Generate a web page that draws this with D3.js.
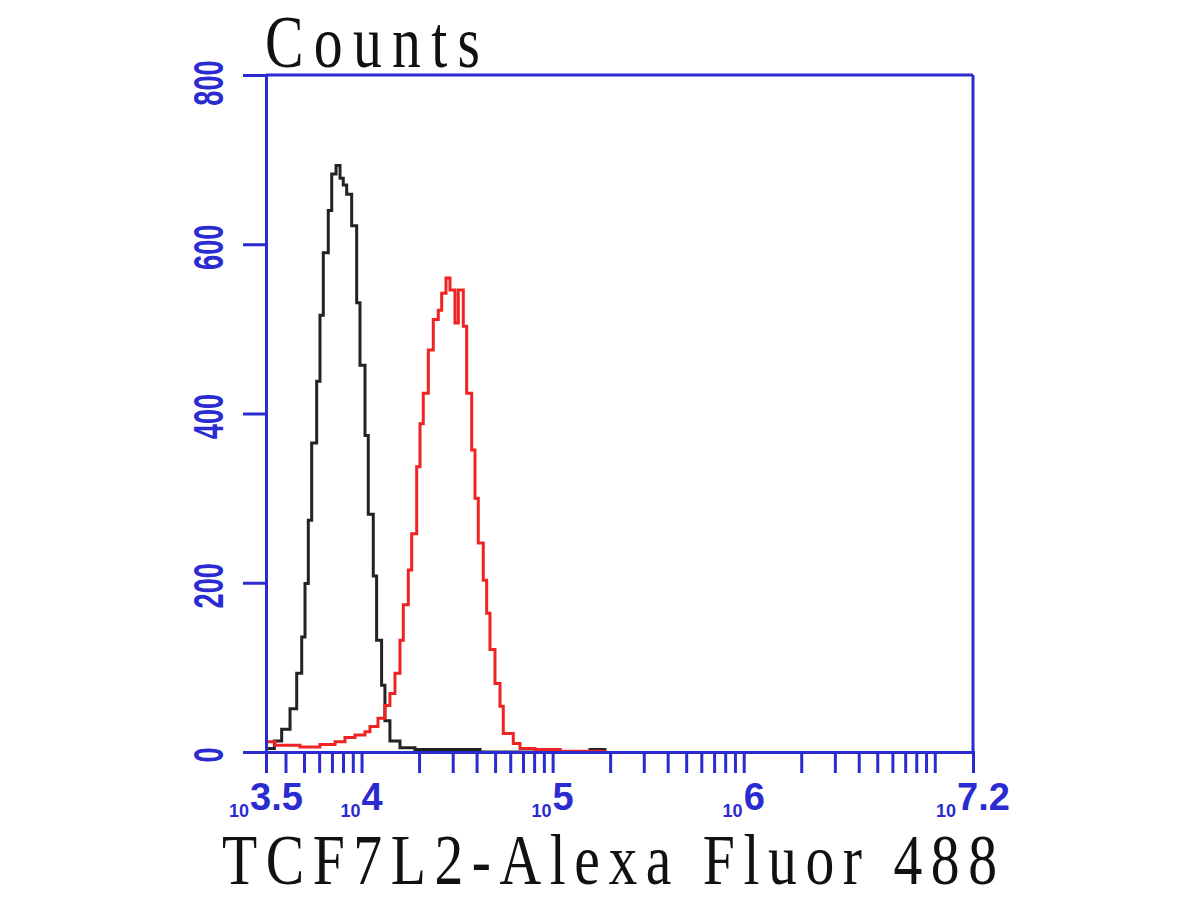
<!DOCTYPE html>
<html><head><meta charset="utf-8">
<script src="https://cdn.jsdelivr.net/npm/d3@7"></script>
<style>html,body{margin:0;padding:0;background:#fff}</style>
</head><body>
<svg id="chart" width="1200" height="900"></svg>
<script>
// Histogram data: bin start intensities and counts (step histograms)
const blackEdges  = [3162, 3500, 3820, 4224, 4578, 4863, 5060, 5265, 5483, 5824, 6060, 6308, 6698, 6982, 7355, 7716, 8024, 8359, 8878, 9431, 9815, 10425, 10845, 11520, 11990, 12735, 13255, 14080, 15890, 19040, 41690, 91200, 109300, 156900, 187900];
const blackCounts = [4, 13, 27, 51, 93, 136, 199, 274, 365, 438, 516, 590, 640, 683, 693, 678, 670, 659, 622, 531, 457, 374, 281, 208, 132, 79, 37, 13, 5, 3, 0, 3, 0, 3, 0];

const redEdges  = [3162, 3524, 4764, 6060, 7268, 8190, 9240, 10425, 11070, 12190, 13255, 14080, 14960, 15890, 16540, 17570, 18300, 19440, 20230, 21040, 22360, 23740, 25210, 26270, 27670, 29030, 30830, 32090, 34080, 35500, 37710, 39240, 40820, 43360, 45170, 47000, 49920, 53030, 55180, 62240, 67480, 80840, 109300, 187900];
const redCounts = [12, 8, 6, 9, 12, 17, 20, 24, 30, 40, 55, 69, 93, 132, 174, 215, 258, 337, 388, 424, 475, 511, 522, 542, 560, 546, 507, 546, 503, 424, 357, 300, 247, 203, 164, 121, 81, 54, 22, 10, 4, 3, 1, 0];

const yTickValues = [0, 200, 400, 600, 800];
const xLabelExponents = [3.5, 4, 5, 6, 7.2];
const xLabelTexts = ["3.5", "4", "5", "6", "7.2"];
const yTitle = "Counts";
const xTitle = "TCF7L2-Alexa Fluor 488";

const BLUE = "#2b2bd2";
const svg = d3.select("#chart");

const x = d3.scaleLog().domain([Math.pow(10, 3.5), Math.pow(10, 7.2)]).range([266, 973]);
const y = d3.scaleLinear().domain([0, 800]).range([752, 75]);

// curves
const line = d3.line().x(d => x(d[0])).y(d => y(d[1])).curve(d3.curveStepAfter);
function pts(edges, counts) { return edges.map((e, i) => [e, counts[i]]); }

svg.append("path").datum(pts(blackEdges, blackCounts)).attr("d", line)
  .attr("fill", "none").attr("stroke", "#222").attr("stroke-width", 3);
svg.append("path").datum(pts(redEdges, redCounts)).attr("d", line)
  .attr("fill", "none").attr("stroke", "#ee2424").attr("stroke-width", 3);

// axes
const xTicks = x.ticks().filter(v => v >= x.domain()[0] && v <= x.domain()[1]).concat(x.domain());
const xAxis = svg.append("g").attr("transform", `translate(0,${y(0)})`)
  .call(d3.axisBottom(x).tickValues(xTicks).tickSize(21).tickSizeOuter(21).tickFormat(""));
const yAxis = svg.append("g").attr("transform", `translate(${x.range()[0]},0)`)
  .call(d3.axisLeft(y).tickValues(yTickValues).tickSize(23).tickSizeOuter(23).tickFormat(""));
[xAxis, yAxis].forEach(g => {
  g.selectAll("path,line").attr("stroke", BLUE).attr("stroke-width", 3);
  g.select(".domain").attr("fill", "none");
});
// frame top & right
svg.append("line").attr("x1", x.range()[0]).attr("x2", x.range()[1]).attr("y1", y(800)).attr("y2", y(800))
  .attr("stroke", BLUE).attr("stroke-width", 3);
svg.append("line").attr("x1", x.range()[1]).attr("x2", x.range()[1]).attr("y1", y(800)).attr("y2", y(0))
  .attr("stroke", BLUE).attr("stroke-width", 3);

// y tick labels (rotated, condensed bold)
svg.append("g").selectAll("text").data(yTickValues).join("text")
  .attr("transform", d => `translate(223,${y(d) + (d === 800 ? 8 : 3)}) rotate(-90) scale(0.65,1)`)
  .attr("text-anchor", "middle")
  .attr("font-family", "'Liberation Sans', Arial, sans-serif")
  .attr("font-weight", "bold").attr("font-size", 42).attr("fill", BLUE)
  .text(d => d);

// x tick labels: small "10" + big exponent
const xl = svg.append("g").selectAll("text").data(xLabelExponents).join("text")
  .attr("x", d => x(Math.pow(10, d)))
  .attr("y", 810)
  .attr("text-anchor", "middle")
  .attr("font-family", "'Liberation Sans', Arial, sans-serif")
  .attr("font-weight", "bold").attr("fill", BLUE);
xl.append("tspan").attr("font-size", 18).attr("dy", 7).text("10");
xl.append("tspan").attr("font-size", 38).attr("dy", -7).attr("dx", 1).text((d, i) => xLabelTexts[i]);

// titles
const sx1 = 0.78;
svg.append("text").text(yTitle)
  .attr("transform", `scale(${sx1},1)`)
  .attr("x", 265 / sx1).attr("y", 67)
  .attr("textLength", 215 / sx1).attr("lengthAdjust", "spacing")
  .attr("font-family", "'Liberation Serif', 'Times New Roman', serif")
  .attr("font-size", 74).attr("fill", "#111");

const sx2 = 0.8;
svg.append("text").text(xTitle)
  .attr("transform", `scale(${sx2},1)`)
  .attr("x", 222 / sx2).attr("y", 884)
  .attr("textLength", 775 / sx2).attr("lengthAdjust", "spacing")
  .attr("font-family", "'Liberation Serif', 'Times New Roman', serif")
  .attr("font-size", 72).attr("fill", "#111");
</script>
</body></html>
